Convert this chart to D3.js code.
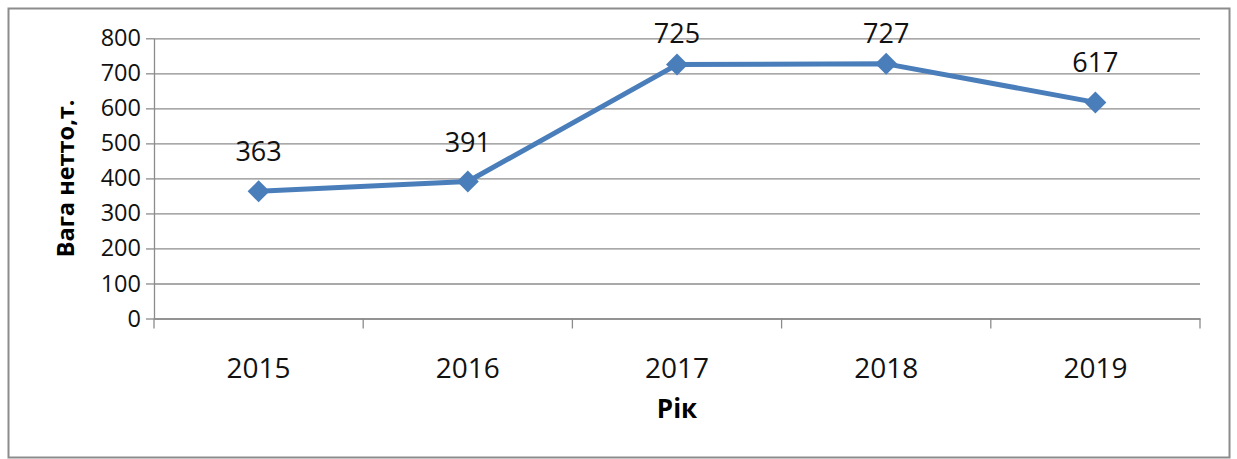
<!DOCTYPE html>
<html><head><meta charset="utf-8">
<script src="https://cdn.jsdelivr.net/npm/d3@7"></script>
<style>html,body{margin:0;padding:0;background:#fff;}svg{display:block;}</style>
</head><body>
<svg id="c" width="1237" height="459"></svg>
<script>
const years = ["2015","2016","2017","2018","2019"];
const values = [363, 391, 725, 727, 617];
const yTicks = [0,100,200,300,400,500,600,700,800];
const yTitle = "Вага нетто,т.";
const xTitle = "Рік";

(function(){
const svg = d3.select("#c");
const font = "'Open Sans', sans-serif";
const mLeft = 154, mRight = 1200, mTop = 38.3, mBottom = 318.5;

svg.append("rect").attr("x",8.5).attr("y",8.5).attr("width",1221).attr("height",449)
  .attr("fill","#fff").attr("stroke","#8c8c8c").attr("stroke-width",2);

const x = d3.scaleBand().domain(years).range([mLeft,mRight]).padding(0);
const y = d3.scaleLinear().domain([0,800]).range([mBottom,mTop]);

// gridlines
const gy = svg.append("g").attr("transform",`translate(${mLeft},0)`)
  .call(d3.axisLeft(y).tickValues(yTicks).tickSize(-(mRight-mLeft)).tickSizeOuter(0).tickPadding(13));
gy.select(".domain").remove();
gy.selectAll(".tick line").attr("stroke","#8c8c8c").attr("stroke-width",1.3);
gy.selectAll(".tick text").attr("font-family",font).attr("font-size",23.5).attr("fill","#111");
// small outward ticks
svg.append("g").attr("transform",`translate(${mLeft},0)`)
  .call(d3.axisLeft(y).tickValues(yTicks).tickSize(8).tickSizeOuter(0).tickFormat(""))
  .call(g=>{g.selectAll("line").attr("stroke","#8c8c8c").attr("stroke-width",1.3);g.select(".domain").attr("stroke","#8c8c8c").attr("stroke-width",1.3);});

// x axis
const xa = svg.append("g").attr("transform",`translate(0,${mBottom})`)
  .call(d3.axisBottom(x).tickSize(0).tickSizeOuter(0).tickPadding(40));
xa.select(".domain").attr("stroke","#8c8c8c").attr("stroke-width",1.3);
xa.selectAll(".tick text").attr("font-family",font).attr("font-size",28).attr("fill","#111");
// boundary ticks
const bounds = years.map(d=>x(d)).concat([x(years[years.length-1])+x.bandwidth()]);
svg.append("g").selectAll("line").data(bounds).join("line")
  .attr("x1",d=>d).attr("x2",d=>d).attr("y1",mBottom).attr("y2",mBottom+10)
  .attr("stroke","#8c8c8c").attr("stroke-width",1.3);

// line
const cx = d=>x(d)+x.bandwidth()/2;
svg.append("path").datum(values.map((v,i)=>[cx(years[i]),y(v)]))
  .attr("d",d3.line()).attr("fill","none").attr("stroke","#4a7ebb").attr("stroke-width",5)
  .attr("stroke-linejoin","round");
svg.append("g").selectAll("path").data(values).join("path")
  .attr("transform",(v,i)=>`translate(${cx(years[i])},${y(v)})`)
  .attr("d","M0,-11L11,0L0,11L-11,0Z").attr("fill","#4a7ebb");

// data labels
svg.append("g").selectAll("text").data(values).join("text")
  .attr("x",(v,i)=>cx(years[i])).attr("y",v=>Math.max(y(v)-30,43))
  .attr("text-anchor","middle").attr("font-family",font).attr("font-size",27).attr("fill","#111")
  .text(v=>v);

// titles
svg.append("text").attr("transform",`translate(74,${(mTop+mBottom)/2}) rotate(-90)`)
  .attr("text-anchor","middle").attr("font-family",font).attr("font-weight","bold")
  .attr("font-size",23.5).attr("fill","#000").text(yTitle);
svg.append("text").attr("x",(mLeft+mRight)/2).attr("y",418).attr("text-anchor","middle")
  .attr("font-family",font).attr("font-weight","bold").attr("font-size",26).attr("fill","#000").text(xTitle);
})();
</script>
</body></html>
